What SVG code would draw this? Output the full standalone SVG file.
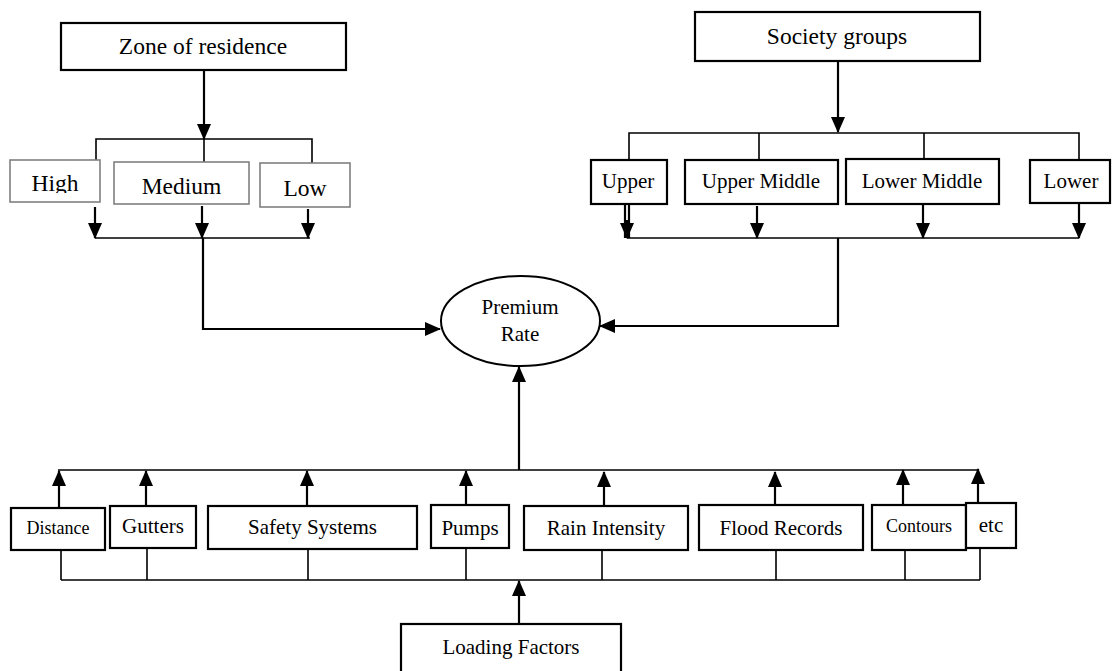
<svg xmlns="http://www.w3.org/2000/svg" width="1113" height="671" viewBox="0 0 1113 671">
<style>
  .box{fill:#fff;stroke:#000;stroke-width:2.2}
  .gbox{fill:#fff;stroke:#808080;stroke-width:1.6}
  .t{font-family:"Liberation Serif","Times New Roman",serif;fill:#000;text-anchor:middle}
  .h{font-size:23.5px}
  .m{font-size:21px}
  .s{font-size:18px}
  .ln{fill:none;stroke:#000;stroke-width:1.6}
  .ar{fill:none;stroke:#000;stroke-width:2.2}
</style>
<defs>
  <marker id="ah" markerUnits="userSpaceOnUse" markerWidth="16" markerHeight="14" refX="15" refY="7" orient="auto">
    <path d="M0,0 L16,7 L0,14 z" fill="#000"/>
  </marker>
  <clipPath id="clipHigh"><rect x="10" y="160" width="92" height="33"/></clipPath>
</defs>
<rect width="1113" height="671" fill="#fff"/>

<g id="connectors">
  <!-- Zone of residence branch -->
  <path class="ar" d="M204,70 V139" marker-end="url(#ah)"/>
  <path class="ln" d="M96,163 V139 H312 V163 M204,139 V162"/>
  <path class="ar" d="M95,207 V238" marker-end="url(#ah)"/>
  <path class="ar" d="M202,206 V238" marker-end="url(#ah)"/>
  <path class="ar" d="M308,209 V238" marker-end="url(#ah)"/>
  <path class="ln" d="M95,238 H310"/>
  <path class="ar" d="M203,238 V329 H440" marker-end="url(#ah)"/>

  <!-- Society groups branch -->
  <path class="ar" d="M838,61 V132" marker-end="url(#ah)"/>
  <path class="ln" d="M629,160 V133 H1079 V160 M759,133 V160 M924,133 V159"/>
  <path class="ar" d="M625,204 V238 M629,204 V238" />
  <path class="ar" d="M627,220 V238" marker-end="url(#ah)"/>
  <path class="ar" d="M757,206 V238" marker-end="url(#ah)"/>
  <path class="ar" d="M923,204 V238" marker-end="url(#ah)"/>
  <path class="ar" d="M1079,203 V238" marker-end="url(#ah)"/>
  <path class="ln" d="M627,238 H1079"/>
  <path class="ar" d="M838,238 V326 H600" marker-end="url(#ah)"/>

  <!-- Loading factors branch -->
  <path class="ar" d="M519,470 V367" marker-end="url(#ah)"/>
  <path class="ln" d="M58,470 H979"/>
  <path class="ar" d="M59,508 V471" marker-end="url(#ah)"/>
  <path class="ar" d="M146,506 V471" marker-end="url(#ah)"/>
  <path class="ar" d="M307,506 V471" marker-end="url(#ah)"/>
  <path class="ar" d="M466,505 V471" marker-end="url(#ah)"/>
  <path class="ar" d="M604,506 V472" marker-end="url(#ah)"/>
  <path class="ar" d="M775,505 V472" marker-end="url(#ah)"/>
  <path class="ar" d="M903,505 V470" marker-end="url(#ah)"/>
  <path class="ar" d="M978,503 V469" marker-end="url(#ah)"/>
  <path class="ln" d="M61,580 H980"/>
  <path class="ln" d="M61,550 V580 M147,548 V580 M308,549 V580 M466,548 V580 M602,550 V580 M776,550 V580 M905,550 V580 M980,548 V580"/>
  <path class="ar" d="M519,625 V581" marker-end="url(#ah)"/>
</g>

<g id="zone">
  <rect class="box" x="61" y="23" width="285" height="47"/>
  <text class="t h" x="203" y="54">Zone of residence</text>
</g>
<g id="high">
  <rect class="gbox" x="10" y="160" width="90" height="42"/>
  <text class="t h" x="55" y="191" clip-path="url(#clipHigh)">High</text>
</g>
<g id="medium">
  <rect class="gbox" x="114" y="162" width="135" height="42"/>
  <text class="t h" x="181.5" y="194">Medium</text>
</g>
<g id="low">
  <rect class="gbox" x="260" y="163" width="90" height="44"/>
  <text class="t h" x="305" y="196">Low</text>
</g>

<g id="society">
  <rect class="box" x="695" y="12" width="285" height="49"/>
  <text class="t h" x="837" y="44">Society groups</text>
</g>
<g id="upper">
  <rect class="box" x="591" y="160" width="76" height="44"/>
  <text class="t m" x="628" y="188">Upper</text>
</g>
<g id="upper-middle">
  <rect class="box" x="685" y="160" width="153" height="44"/>
  <text class="t m" x="761" y="188">Upper Middle</text>
</g>
<g id="lower-middle">
  <rect class="box" x="846" y="159" width="153" height="45"/>
  <text class="t m" x="922" y="188">Lower Middle</text>
</g>
<g id="lower">
  <rect class="box" x="1030" y="160" width="80" height="43"/>
  <text class="t m" x="1071" y="188">Lower</text>
</g>

<g id="premium">
  <ellipse cx="520.5" cy="321" rx="79.5" ry="45" fill="#fff" stroke="#000" stroke-width="2"/>
  <text class="t m" x="520" y="314">Premium</text>
  <text class="t m" x="520" y="341">Rate</text>
</g>

<g id="distance">
  <rect class="box" x="11" y="508" width="94" height="42"/>
  <text class="t s" x="58" y="534">Distance</text>
</g>
<g id="gutters">
  <rect class="box" x="110" y="506" width="86" height="42"/>
  <text class="t m" x="153" y="533">Gutters</text>
</g>
<g id="safety">
  <rect class="box" x="208" y="506" width="209" height="43"/>
  <text class="t m" x="312.5" y="534">Safety Systems</text>
</g>
<g id="pumps">
  <rect class="box" x="431" y="505" width="78" height="43"/>
  <text class="t m" x="470" y="535">Pumps</text>
</g>
<g id="rain">
  <rect class="box" x="524" y="506" width="164" height="44"/>
  <text class="t m" x="606" y="535">Rain Intensity</text>
</g>
<g id="flood">
  <rect class="box" x="699" y="505" width="164" height="45"/>
  <text class="t m" x="781" y="535">Flood Records</text>
</g>
<g id="contours">
  <rect class="box" x="872" y="505" width="94" height="45"/>
  <text class="t s" x="919" y="532">Contours</text>
</g>
<g id="etc">
  <rect class="box" x="966" y="503" width="50" height="45"/>
  <text class="t m" x="991" y="532">etc</text>
</g>

<g id="loading">
  <rect class="box" x="401" y="624" width="220" height="60"/>
  <text class="t m" x="511" y="654">Loading Factors</text>
</g>
</svg>
